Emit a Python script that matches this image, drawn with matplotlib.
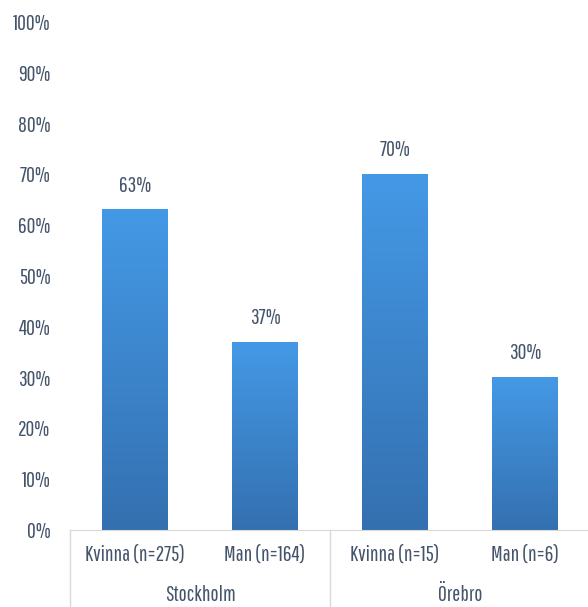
import matplotlib
matplotlib.use("Agg")
import matplotlib.pyplot as plt
import numpy as np
from matplotlib import font_manager as fm
from matplotlib.colors import LinearSegmentedColormap

cities = ["Stockholm", "Örebro"]
labels = ["Kvinna (n=275)", "Man (n=164)", "Kvinna (n=15)", "Man (n=6)"]
values = [0.63, 0.37, 0.70, 0.30]
value_labels = ["63%", "37%", "70%", "30%"]
yticks = [0, 0.1, 0.2, 0.3, 0.4, 0.5, 0.6, 0.7, 0.8, 0.9, 1.0]

names = {f.name for f in fm.fontManager.ttflist}
fam = "DejaVu Sans"
for cand in ["Saira Extra Condensed", "Pathway Gothic One", "Antonio", "Barlow Condensed"]:
    if cand in names:
        fam = cand
        break
plt.rcParams["font.family"] = [fam, "DejaVu Sans"]
tc = "#44546A"
fsz = 15.5

W, H = 588, 607
fig = plt.figure(figsize=(W/100, H/100), dpi=100)
ax = fig.add_axes([70/W, (H-530)/H, 518/W, (530-22)/H])
x = np.arange(len(values))
bw = 66/130
cmap = LinearSegmentedColormap.from_list("g", ["#3470B0", "#4499E6"])
grad = np.linspace(0, 1, 256).reshape(-1, 1)
for xi, v, t in zip(x, values, value_labels):
    ax.imshow(grad, extent=(xi-bw/2, xi+bw/2, 0, v), origin="lower", cmap=cmap,
              aspect="auto", zorder=2)
    ax.text(xi, v+0.048, t, ha="center", va="center", fontsize=fsz, color=tc)
ax.set_xlim(-0.5, 3.5-2/130)
ax.set_ylim(0, 1.0)
ax.set_yticks(yticks)
ax.set_yticklabels([f"{int(round(t*100))}%" for t in yticks], fontsize=fsz, color=tc)
ax.tick_params(axis="y", length=0, pad=14)
ax.set_xticks([])
for s in ["top", "right", "left"]:
    ax.spines[s].set_visible(False)
ax.spines["bottom"].set_color("#D9D9D9")

lc = "#D9D9D9"
for xi, lab in zip(x, labels):
    ax.text(xi, -25/508, lab, ha="center", va="center", fontsize=fsz, color=tc,
            clip_on=False)
for i, c in enumerate(cities):
    ax.text(2*i+0.5, -65/508, c, ha="center", va="center", fontsize=fsz, color=tc,
            clip_on=False)
for xv in [-0.5, 1.5]:
    ax.plot([xv, xv], [0, -80/508], color=lc, lw=1, clip_on=False)

fig.savefig("out.png", dpi=100)
